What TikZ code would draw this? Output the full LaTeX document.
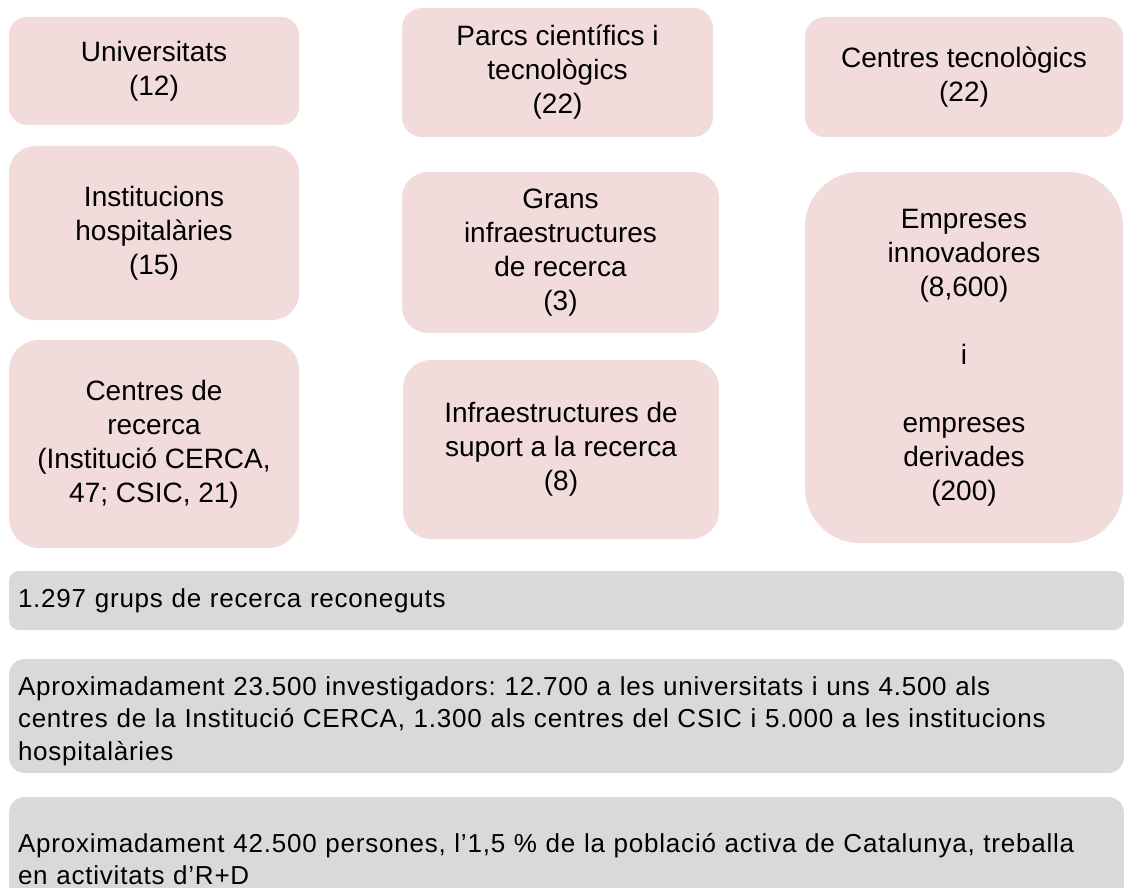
\documentclass[tikz,border=0pt]{standalone}
\usepackage{fontspec}
\setmainfont{Liberation Sans}
\newfontfamily\barfont[LetterSpace=3]{Liberation Sans}
\definecolor{pinkfill}{HTML}{F2DCDB}
\definecolor{grayfill}{HTML}{D9D9D9}
\frenchspacing
\newcommand{\lowstrut}{\rule{0pt}{22pt}}
\tikzset{
  pinkbox/.style={fill=pinkfill, draw=none, inner sep=0pt, align=center,
    font=\fontsize{21}{25.5}\selectfont},
  graybar/.style={fill=grayfill, draw=none, inner xsep=6.75pt, inner ysep=0pt,
    text width=822.75pt, minimum width=836.25pt, align=left,
    font=\barfont\fontsize{19.5}{24.4}\selectfont\frenchspacing}
}
\begin{document}
\begin{tikzpicture}[x=0.75pt,y=-0.75pt]
\useasboundingbox (0,0) rectangle (1124,888);
\clip (0,0) rectangle (1124,888);
\fill[white] (0,0) rectangle (1124,888);
% column 1
\node[pinkbox, minimum width=217.5pt, minimum height=81pt, rounded corners=13.5pt] (univ) at (154,71) {Universitats\\(12)};
\node[pinkbox, minimum width=217.5pt, minimum height=130.5pt, rounded corners=20pt] (hosp) at (154,233) {Institucions\\hospitalàries\\(15)};
\node[pinkbox, minimum width=217.5pt, minimum height=156pt, rounded corners=22.5pt] (rec) at (154,444) {Centres de\\recerca\\(Institució CERCA,\\47; CSIC, 21)};
% column 2
\node[pinkbox, minimum width=233.25pt, minimum height=96.75pt, rounded corners=15pt] (parcs) at (557.5,72.5) {Parcs científics i\\tecnològics\\(22)};
\node[pinkbox, minimum width=237.75pt, minimum height=120.75pt, rounded corners=19.5pt] (grans) at (560.5,252.5) {Grans\\infraestructures\\de recerca\\(3)};
\node[pinkbox, minimum width=237pt, minimum height=134.25pt, rounded corners=21pt] (suport) at (561,449.5) {Infraestructures de\\suport a la recerca\\(8)};
% column 3
\node[pinkbox, minimum width=238.5pt, minimum height=90pt, rounded corners=15pt] (ctec) at (964,77) {Centres tecnològics\\(22)};
\node[pinkbox, minimum width=238.5pt, minimum height=278.25pt, rounded corners=41pt] (emp) at (964,357.5) {Empreses\\innovadores\\(8,600)\\ \\i\\ \\empreses\\derivades\\(200)};
% bars
\node[graybar, minimum height=44.25pt, rounded corners=7.5pt] (grups) at (566.5,600.5) {1.297 grups de recerca reconeguts};
\node[graybar, minimum height=85.5pt, rounded corners=12pt] (inv) at (566.5,716) {\lowstrut Aproximadament 23.500 investigadors: 12.700 a les universitats i uns 4.500 als\\centres de la Institució CERCA, 1.300 als centres del CSIC i 5.000 a les institucions\\hospitalàries};
\node[graybar, minimum height=85.5pt, rounded corners=12pt] (pers) at (566.5,854) {\lowstrut Aproximadament 42.500 persones, l’1,5 \% de la població activa de Catalunya, treballa\\en activitats d’R+D};
\end{tikzpicture}
\end{document}
